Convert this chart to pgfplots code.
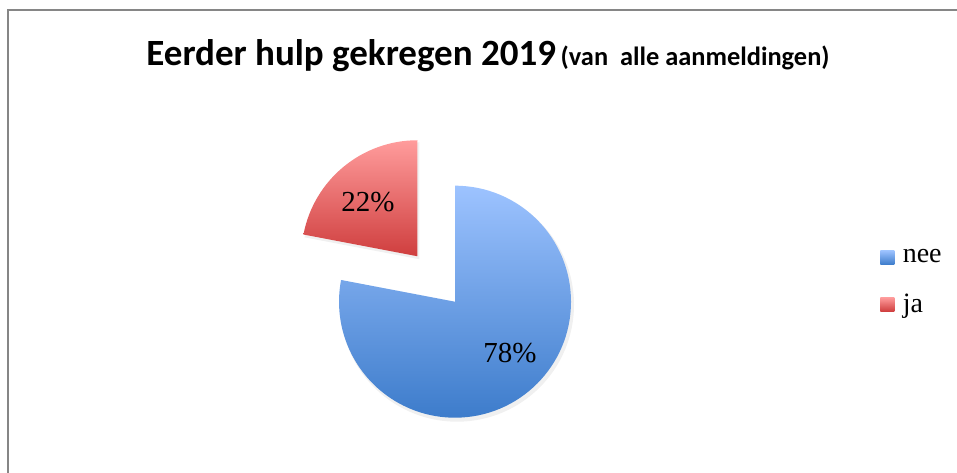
\documentclass[border=0pt]{standalone}
\usepackage{pgfplots}
\pgfplotsset{compat=1.18}
\usepackage{pgfplotstable}
\usepackage{fontspec}
\setmainfont{Liberation Serif}
\newfontfamily\titlefont{Carlito}
\definecolor{bluetop}{HTML}{9DC3FF}
\definecolor{bluebot}{HTML}{3D7CCB}
\definecolor{redtop}{HTML}{FF9C9C}
\definecolor{redbot}{HTML}{CF3E3E}
\definecolor{frame}{HTML}{868686}
\pgfplotstableread{
label value
nee 78
ja 22
}\piedata
\begin{document}
\begin{tikzpicture}
\pgfplotstablegetelem{0}{value}\of\piedata \let\vnee\pgfplotsretval
\pgfplotstablegetelem{1}{value}\of\piedata \let\vja\pgfplotsretval
\pgfmathsetmacro\neeend{90-3.6*\vnee}
\pgfmathsetmacro\jaend{90+3.6*\vja}
\pgfmathsetmacro\jamid{90+1.8*\vja}
\pgfmathsetmacro\offx{29.5*cos(\jamid)}
\pgfmathsetmacro\offy{29.5*sin(\jamid)}
\begin{axis}[
  scale only axis, width=478.5pt, height=236pt,
  xmin=0, xmax=957, ymin=0, ymax=472,
  hide axis, clip=false,
  legend cell align=left,
  legend style={draw=none, fill=none, at={(axis cs:880,226)}, anchor=north west,
    inner sep=0pt, row sep=11pt, font=\fontsize{14}{16}\selectfont,
    nodes={inner sep=1.5pt}},
]
\addlegendimage{legend image code/.code={\shade[draw=none, top color=bluetop, bottom color=bluebot] (0pt,-3.5pt) rectangle (7pt,3.5pt); \path (9.5pt,0pt);}}
\addlegendentry{nee}
\addlegendimage{legend image code/.code={\shade[draw=none, top color=redtop, bottom color=redbot] (0pt,-3.5pt) rectangle (7pt,3.5pt); \path (9.5pt,0pt);}}
\addlegendentry{ja}
% frame
\draw[frame, line width=0.7pt] (axis cs:8,-20) -- (axis cs:8,462) -- (axis cs:1000,462);
% title
\node[anchor=base, font=\titlefont\bfseries] at (axis cs:488,406)
  {{\fontsize{18.5}{20}\selectfont Eerder hulp gekregen 2019} {\fontsize{13.2}{15}\selectfont (van\ \ alle aanmeldingen)}};
% shadows
\fill[black, opacity=0.06] ([shift={(1pt,-1.5pt)}]axis cs:455,170.3) -- ++(90:58.5pt) arc[start angle=90, end angle=\neeend, radius=58.5pt] -- cycle;
\fill[black, opacity=0.06] ([shift={(\offx pt+1pt,\offy pt-1.5pt)}]axis cs:455,170.3) -- ++(90:58.5pt) arc[start angle=90, end angle=\jaend, radius=58.5pt] -- cycle;
% slices
\shade[top color=bluetop, bottom color=bluebot] (axis cs:455,170.3) -- ++(90:58pt) arc[start angle=90, end angle=\neeend, radius=58pt] -- cycle;
\shade[top color=redtop, bottom color=redbot] ([shift={(\offx pt,\offy pt)}]axis cs:455,170.3) -- ++(90:58pt) arc[start angle=90, end angle=\jaend, radius=58pt] -- cycle;
% labels
\node[font=\fontsize{14.5}{17}\selectfont] at (axis cs:368,270.3) {\vja\%};
\node[font=\fontsize{14.5}{17}\selectfont] at (axis cs:510,119) {\vnee\%};
\end{axis}
\pgfresetboundingbox
\path[use as bounding box] (0,0) rectangle (478.5pt,236pt);
\end{tikzpicture}
\end{document}
